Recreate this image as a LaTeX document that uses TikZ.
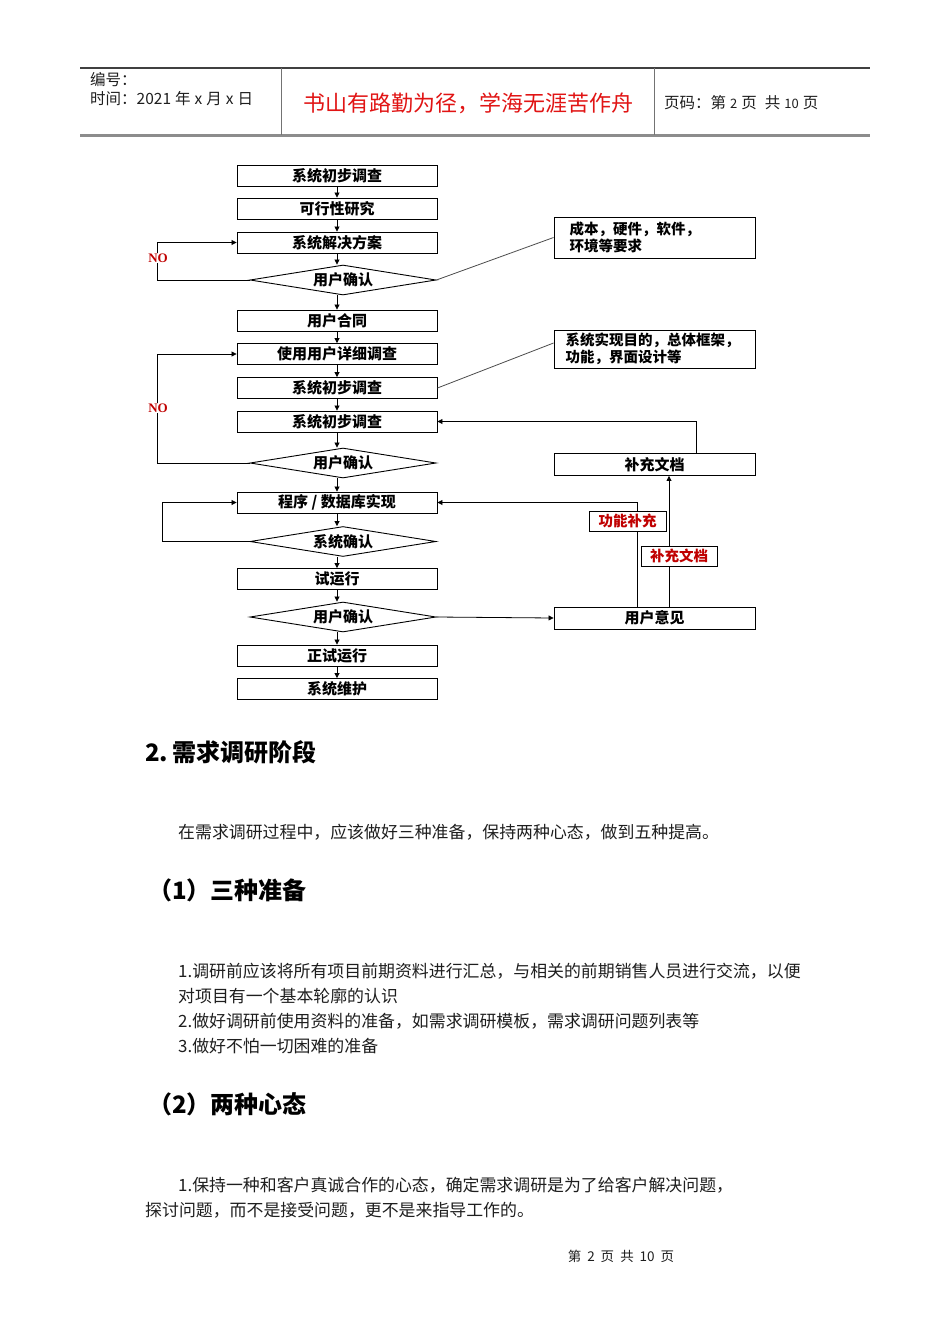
\documentclass[tikz,border=0pt]{standalone}
\usepackage{fontspec}
\setmainfont{Liberation Sans}
\newfontfamily\cjk{Noto Sans CJK SC}
\newfontfamily\noser{Liberation Serif}
\usetikzlibrary{shapes.geometric,arrows.meta}
\definecolor{darkred}{RGB}{192,0,0}
\definecolor{motto}{RGB}{225,20,20}
\definecolor{txt}{RGB}{30,30,30}
\begin{document}
\begin{tikzpicture}[x=1pt,y=-1pt,
  fbox/.style={draw, line width=0.9pt, minimum width=200pt, minimum height=21pt, inner sep=0pt,
    font=\cjk\bfseries\fontsize{15}{15}\selectfont},
  fdia/.style={draw, diamond, aspect=6.2, line width=0.9pt, minimum width=186pt, minimum height=30pt, inner sep=0pt,
    font=\cjk\bfseries\fontsize{15}{15}\selectfont},
  note/.style={draw, line width=0.9pt, minimum width=201pt, minimum height=41pt, inner ysep=0pt,
    align=left, font=\cjk\bfseries\fontsize{14.5}{16.5}\selectfont},
  rbox/.style={draw, line width=0.9pt, minimum width=201pt, minimum height=22pt, inner sep=0pt,
    font=\cjk\bfseries\fontsize{15}{15}\selectfont},
  redlab/.style={draw, fill=white, line width=0.9pt, text=darkred, inner sep=0pt,
    font=\cjk\bfseries\fontsize{14.5}{14.5}\selectfont},
  nolab/.style={fill=white, text=darkred, inner sep=1pt, font=\noser\bfseries\fontsize{13}{13}\selectfont},
  arr/.style={line width=0.8pt, -{Triangle[length=5pt,width=5pt]}},
  ln/.style={line width=0.8pt},
  body/.style={anchor=west, inner sep=0pt, text=txt, font=\cjk\fontsize{16.9}{16.9}\selectfont},
  head/.style={anchor=west, inner sep=0pt, text=black, font=\cjk\bfseries\fontsize{24}{24}\selectfont},
  hdr/.style={anchor=west, inner sep=0pt, text=txt, font=\cjk\fontsize{15.5}{15.5}\selectfont}
]
\useasboundingbox[fill=white] (0,0) rectangle (950,1344);

% header
\draw[line width=1.2pt, black!75] (80,68) coordinate (htl) -- (870,68) coordinate (htr);
\draw[line width=2.2pt, black!45] (80,135.5) coordinate (hbl) -- (870,135.5) coordinate (hbr);
\draw[line width=1pt, black!55] (281,68) coordinate (v1t) -- (281,135) coordinate (v1b);
\draw[line width=1pt, black!55] (654,68) coordinate (v2t) -- (654,135) coordinate (v2b);
\node[hdr] (h1) at (90,80) {编号：};
\node[hdr] (h2) at (90,99) {时间：2021\hspace{4pt}年\hspace{4pt}x\hspace{4pt}月\hspace{4pt}x\hspace{4pt}日};
\node[anchor=center, inner sep=0pt, text=motto, font=\cjk\fontsize{22}{22}\selectfont] (h3) at (468,103) {书山有路勤为径，学海无涯苦作舟};
\node[hdr] (h4) at (664,103) {页码：第\hspace{4pt}{\fontsize{13}{13}\selectfont 2}\hspace{4pt}页\hspace{8pt}共\hspace{4pt}{\fontsize{13}{13}\selectfont 10}\hspace{4pt}页};

% flowchart main column
\node[fbox] (b1) at (337,175.5) {系统初步调查};
\node[fbox] (b2) at (337,208.5) {可行性研究};
\node[fbox] (b3) at (337,242.5) {系统解决方案};
\node[fdia] (d1) at (343,280) {用户确认};
\node[fbox] (b4) at (337,320.5) {用户合同};
\node[fbox] (b5) at (337,354) {使用用户详细调查};
\node[fbox] (b6) at (337,388) {系统初步调查};
\node[fbox] (b7) at (337,421.5) {系统初步调查};
\node[fdia] (d2) at (343,463) {用户确认};
\node[fbox] (b8) at (337,502.5) {程序 / 数据库实现};
\node[fdia] (d3) at (343,541.5) {系统确认};
\node[fbox] (b9) at (337,579) {试运行};
\node[fdia] (d4) at (343,617) {用户确认};
\node[fbox] (b10) at (337,655.5) {正试运行};
\node[fbox] (b11) at (337,689) {系统维护};

\draw[arr] (b1) -- (b2);
\draw[arr] (b2) -- (b3);
\draw[arr] (b3.south) -- (b3.south |- d1.north);
\draw[arr] (b4.north |- d1.south) -- (b4.north);
\draw[arr] (b4) -- (b5);
\draw[arr] (b5) -- (b6);
\draw[arr] (b6) -- (b7);
\draw[arr] (b7.south) -- (b7.south |- d2.north);
\draw[arr] (b8.north |- d2.south) -- (b8.north);
\draw[arr] (b8.south) -- (b8.south |- d3.north);
\draw[arr] (b9.north |- d3.south) -- (b9.north);
\draw[arr] (b9.south) -- (b9.south |- d4.north);
\draw[arr] (b10.north |- d4.south) -- (b10.north);
\draw[arr] (b10) -- (b11);

% loops
\draw[arr] (d1.west) -- ++(-92,0) |- (b3.west);
\draw[arr] (d2.west) -- ++(-92,0) |- (b5.west);
\draw[arr] (d3.west) -- ++(-87,0) |- (b8.west);
\node[nolab] (no1) at (158,258) {NO};
\node[nolab] (no2) at (158,408) {NO};

% notes
\node[note, inner xsep=15.5pt, text width=170pt] (n1) at (654.5,237.5) {成本，硬件，软件，\\环境等要求};
\node[note, inner xsep=11.5pt, text width=178pt, minimum height=38pt] (n2) at (654.5,349) {系统实现目的，总体框架，\\功能，界面设计等};
\draw[ln, black!70] (d1.east) -- (n1.west);
\draw[ln, black!70] (b6.east) -- ([yshift=6pt]n2.west);

% right side
\node[rbox] (bc) at (654.5,464.5) {补充文档};
\node[rbox] (yj) at (654.5,618) {用户意见};
\draw[arr] ([xshift=41.5pt]bc.north) |- (b7.east);
\draw[arr] (d4.east) -- (yj.west);
\draw[arr] ([xshift=14.5pt]yj.north) -- ([xshift=14.5pt]bc.south);
\draw[arr] ([xshift=-17.5pt]yj.north) |- (b8.east);
\node[redlab, minimum width=77pt, minimum height=20pt] (l1) at (627.5,521) {功能补充};
\node[redlab, minimum width=76pt, minimum height=20pt] (l2) at (679,556) {补充文档};

% text
\node[head] (t1) at (145,752) {2.\,需求调研阶段};
\node[body] (t2) at (178,832) {在需求调研过程中，应该做好三种准备，保持两种心态，做到五种提高。};
\node[head] (t3) at (148,890) {（1）三种准备};
\node[body] (t4) at (178,971) {1.调研前应该将所有项目前期资料进行汇总，与相关的前期销售人员进行交流，以便};
\node[body] (t5) at (178,996) {对项目有一个基本轮廓的认识};
\node[body] (t6) at (178,1021) {2.做好调研前使用资料的准备，如需求调研模板，需求调研问题列表等};
\node[body] (t7) at (178,1046) {3.做好不怕一切困难的准备};
\node[head] (t8) at (148,1104) {（2）两种心态};
\node[body] (t9) at (178,1185) {1.保持一种和客户真诚合作的心态，确定需求调研是为了给客户解决问题，};
\node[body] (t10) at (145,1210) {探讨问题，而不是接受问题，更不是来指导工作的。};
\node[anchor=center, inner sep=0pt, text=txt, font=\cjk\fontsize{13.5}{13.5}\selectfont] (ft) at (621,1256) {第\hspace{6pt}2\hspace{6pt}页\hspace{6pt}共\hspace{6pt}10\hspace{6pt}页};
\end{tikzpicture}
\end{document}
